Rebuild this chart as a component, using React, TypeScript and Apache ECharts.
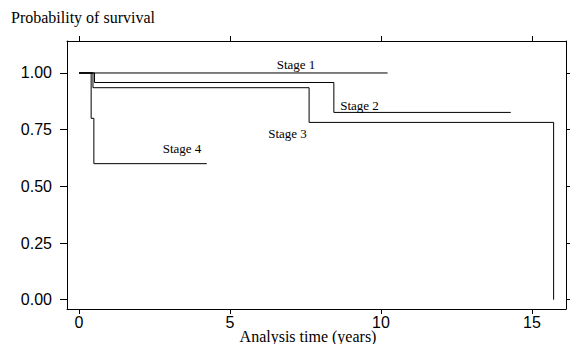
import React, { useEffect, useRef } from "react";
import * as echarts from "echarts";

const stageNames = ["Stage 1", "Stage 2", "Stage 3", "Stage 4"];
const stage1Time = [0, 10.22];
const stage1Surv = [1, 1];
const stage2Time = [0, 0.51, 8.44, 14.3];
const stage2Surv = [1, 0.958, 0.826, 0.826];
const stage3Time = [0, 0.46, 7.62, 15.72];
const stage3Surv = [1, 0.935, 0.782, 0];
const stage4Time = [0, 0.4, 0.49, 4.23];
const stage4Surv = [1, 0.8, 0.6, 0.6];
const xTicks = [0, 5, 10, 15];
const yTicks = [0, 0.25, 0.5, 0.75, 1];

const SERIF = '"Liberation Serif", "DejaVu Serif", serif';
const SANS = '"Liberation Sans", Arial, sans-serif';

export default function App() {
  const ref = useRef<HTMLDivElement>(null);
  useEffect(() => {
    if (!ref.current) return;
    const chart = echarts.init(ref.current, null, { renderer: "svg" });
    const pairs = (t: number[], s: number[]) => t.map((v, i) => [v, s[i]]);
    const curves = [
      pairs(stage1Time, stage1Surv),
      pairs(stage2Time, stage2Surv),
      pairs(stage3Time, stage3Surv),
      pairs(stage4Time, stage4Surv),
    ];
    const axisLine = { show: true, onZero: false, lineStyle: { color: "#000", width: 1 } };
    const xMin = -0.4, xMax = 16.13, yMin = -0.041, yMax = 1.141;
    chart.setOption({
      animation: false,
      backgroundColor: "#fff",
      grid: { left: 67, right: 4, top: 41, bottom: 35, containLabel: false },
      xAxis: [
        {
          type: "value", position: "bottom", min: xMin, max: xMax,
          axisLine, splitLine: { show: false },
          axisTick: { show: true, customValues: xTicks, length: 5, lineStyle: { color: "#000" } },
          axisLabel: { customValues: xTicks, fontFamily: SANS, fontSize: 16, color: "#000", margin: 5 },
        },
        {
          type: "value", position: "top", min: xMin, max: xMax,
          axisLine, splitLine: { show: false },
          axisTick: { show: true, customValues: xTicks, length: 5, lineStyle: { color: "#000" } },
          axisLabel: { show: false },
        },
      ],
      yAxis: [
        {
          type: "value", position: "left", min: yMin, max: yMax,
          axisLine, splitLine: { show: false },
          axisTick: { show: true, customValues: yTicks, length: 7, lineStyle: { color: "#000" } },
          axisLabel: {
            customValues: yTicks, fontFamily: SANS, fontSize: 16, color: "#000", margin: 15,
            formatter: (v: number) => v.toFixed(2),
          },
        },
        {
          type: "value", position: "right", min: yMin, max: yMax,
          axisLine, splitLine: { show: false },
          axisTick: { show: true, customValues: yTicks, length: 5, lineStyle: { color: "#000" } },
          axisLabel: { show: false },
        },
      ],
      series: curves.map((d, i) => ({
        name: stageNames[i],
        type: "line",
        step: "end",
        data: d,
        symbol: "none",
        lineStyle: { color: "#000", width: 1 },
        xAxisIndex: 0,
        yAxisIndex: 0,
      })),
      graphic: [
        { type: "text", left: 11, top: 9, style: { text: "Probability of survival", font: `16px ${SERIF}`, fill: "#000" } },
        { type: "text", x: 308, y: 336, style: { text: "Analysis time (years)", font: `16px ${SERIF}`, fill: "#000", align: "center", verticalAlign: "middle" } },
        { type: "text", x: 296, y: 64, style: { text: stageNames[0], font: `13px ${SERIF}`, fill: "#000", align: "center", verticalAlign: "middle" } },
        { type: "text", x: 359.5, y: 105, style: { text: stageNames[1], font: `13px ${SERIF}`, fill: "#000", align: "center", verticalAlign: "middle" } },
        { type: "text", x: 287.5, y: 133, style: { text: stageNames[2], font: `13px ${SERIF}`, fill: "#000", align: "center", verticalAlign: "middle" } },
        { type: "text", x: 182, y: 148, style: { text: stageNames[3], font: `13px ${SERIF}`, fill: "#000", align: "center", verticalAlign: "middle" } },
      ],
    });
    return () => chart.dispose();
  }, []);
  return <div ref={ref} style={{ position: "fixed", left: 0, top: 0, width: 570, height: 344 }} />;
}
